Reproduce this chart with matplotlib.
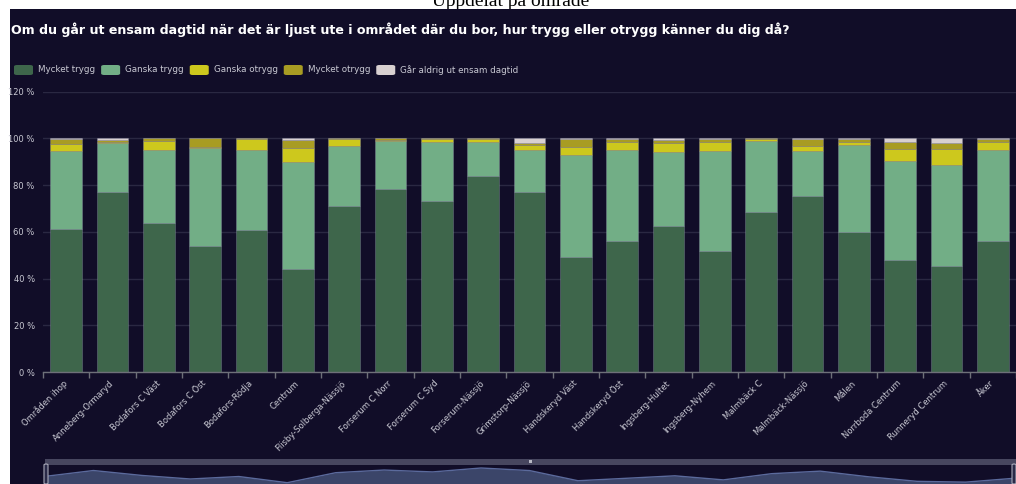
import matplotlib
matplotlib.use('Agg')
import matplotlib.pyplot as plt
import numpy as np
from matplotlib.patches import Rectangle, FancyBboxPatch
from matplotlib import font_manager

W, H = 1016, 484

categories = ["Områden ihop", "Anneberg-Ormaryd", "Bodafors C Väst", "Bodafors C Öst",
              "Bodafors-Rödja", "Centrum", "Flisby-Solberga-Nässjö", "Forserum C Norr",
              "Forserum C Syd", "Forserum-Nässjö", "Grimstorp-Nässjö", "Handskeryd Väst",
              "Handskeryd Öst", "Ingsberg-Hultet", "Ingsberg-Nyhem", "Malmbäck C",
              "Malmbäck-Nässjö", "Målen", "Norrboda Centrum", "Runneryd Centrum", "Åker"]

mycket_trygg = [61.1, 77.0, 63.7, 54.1, 60.8, 44.1, 71.1, 78.3, 73.2, 83.8, 76.9,
                49.4, 56.0, 62.7, 51.7, 68.5, 75.3, 60.0, 47.8, 45.6, 56.0]
ganska_trygg = [33.6, 21.1, 31.4, 41.8, 34.1, 45.9, 25.5, 20.7, 25.3, 14.5, 18.2,
                43.4, 38.9, 31.3, 43.0, 30.3, 19.4, 37.1, 42.4, 43.0, 39.1]
ganska_otrygg = [3.0, 0.3, 3.9, 0.3, 4.6, 6.0, 3.0, 0.3, 1.1, 1.4, 2.0,
                 3.3, 3.4, 4.1, 3.6, 0.8, 2.1, 1.4, 5.1, 6.8, 3.4]
mycket_otrygg = [1.9, 1.0, 1.0, 3.8, 0.5, 3.3, 0.4, 0.7, 0.4, 0.3, 1.0,
                 3.5, 1.5, 1.3, 1.4, 0.4, 2.7, 1.1, 3.1, 2.5, 1.1]
gar_aldrig = [0.4, 0.6, 0.0, 0.0, 0.0, 0.7, 0.0, 0.0, 0.0, 0.0, 1.9,
              0.4, 0.2, 0.6, 0.3, 0.0, 0.5, 0.4, 1.6, 2.1, 0.4]

series_names = ["Mycket trygg", "Ganska trygg", "Ganska otrygg", "Mycket otrygg",
                "Går aldrig ut ensam dagtid"]
series_values = [mycket_trygg, ganska_trygg, ganska_otrygg, mycket_otrygg, gar_aldrig]
series_colors = ["#3e664b", "#72ae86", "#cdc81d", "#a89c23", "#d8d0d0"]

yticks = [0, 20, 40, 60, 80, 100, 120]
ytick_labels = [f"{v} %" for v in yticks]

title = ("Om du går ut ensam dagtid när det är ljust ute i området där du bor, "
         "hur trygg eller otrygg känner du dig då?")
header = "Uppdelat på område"

BG = "#110d28"
GRID = "#2a2842"
AXIS = "#6e7079"
TXT = "#c9c9d3"

names = {f.name for f in font_manager.fontManager.ttflist}
narrow = "Liberation Sans Narrow" if "Liberation Sans Narrow" in names else "DejaVu Sans"
sans = "DejaVu Sans"

fig = plt.figure(figsize=(W / 100, H / 100), dpi=100, facecolor="white")


def fx(px):
    return px / W


def fy(py):
    return 1 - py / H


fig.canvas.draw()
renderer = fig.canvas.get_renderer()

# header (partially hidden)
ht = fig.text(fx(511), fy(5.5), header, family=["Liberation Serif", "DejaVu Serif"],
              fontsize=13.5, ha="center", va="baseline", color="black", zorder=-3)
bb = ht.get_window_extent(renderer)
ht.set_fontsize(13.5 * 157 / bb.width)

fig.add_artist(Rectangle((fx(10), 0), 1 - fx(10), fy(9), transform=fig.transFigure,
                         facecolor=BG, edgecolor="none", zorder=-2))

# title
tt = fig.text(fx(11), fy(34), title, family=sans, fontweight="bold", fontsize=11,
              color="white", ha="left", va="baseline")
bb = tt.get_window_extent(renderer)
tt.set_fontsize(11 * 779 / bb.width)

# main axes
ax = fig.add_axes([fx(43), fy(372.3), fx(1016) - fx(43), fy(91.5) - fy(372.3)])
ax.set_facecolor("none")
x = np.arange(len(categories))
bottom = np.zeros(len(categories))
containers = []
for name, vals, col in zip(series_names, series_values, series_colors):
    vals = np.array(vals)
    c = ax.bar(x, vals, 0.69, bottom=bottom, color=col, label=name,
               edgecolor=(0.62, 0.62, 0.72, 0.35), linewidth=0.6, zorder=3)
    containers.append(c)
    bottom += vals

ax.set_xlim(-0.5, len(categories) - 0.5)
ax.set_ylim(0, 120)
ax.set_yticks(yticks)
ax.set_yticklabels(ytick_labels)
ax.yaxis.grid(True, color=GRID, linewidth=1.0, zorder=0)
ax.set_axisbelow(True)
for s in ["top", "right", "left"]:
    ax.spines[s].set_visible(False)
ax.spines["bottom"].set_color(AXIS)
ax.spines["bottom"].set_linewidth(1.0)
ax.spines["bottom"].set_zorder(4)
ax.tick_params(axis="y", length=0, pad=6, labelsize=6, labelcolor=TXT)
for lab in ax.get_yticklabels():
    lab.set_family(sans)

ax.set_xticks(x)
ax.set_xticklabels(categories, rotation=45, ha="right", va="center",
                   rotation_mode="anchor", fontsize=6, color=TXT, family=narrow)
ax.tick_params(axis="x", which="major", length=0, pad=7)
ax.set_xticks(np.arange(-0.5, len(categories), 1.0), minor=True)
ax.tick_params(axis="x", which="minor", length=4, color=AXIS, width=1)

# legend (manual, echarts style)
lx = 14
ly = 70
for name, col in zip(series_names, series_colors):
    fig.add_artist(FancyBboxPatch((fx(lx), fy(ly + 5)), fx(19), 10 / H,
                                  boxstyle="round,pad=0,rounding_size=0.003",
                                  transform=fig.transFigure, facecolor=col,
                                  edgecolor="none"))
    t = fig.text(fx(lx + 24), fy(ly), name, fontsize=6.3, color=TXT, family=sans,
                 ha="left", va="center")
    w = t.get_window_extent(renderer).width
    lx = lx + 24 + w + 6

# data zoom slider
fig.add_artist(Rectangle((fx(45), fy(465)), fx(1016) - fx(45), 6 / H,
                         transform=fig.transFigure, facecolor="#47465f",
                         edgecolor="none", zorder=1))
sax = fig.add_axes([fx(45), 0, fx(1014) - fx(45), fy(465)])
sax.set_facecolor("#282a48")
xs = np.arange(len(mycket_trygg))
sax.fill_between(xs, mycket_trygg, 0, color="#3b4569", linewidth=0)
sax.plot(xs, mycket_trygg, color="#5b6a9c", linewidth=1)
sax.set_xlim(0, len(mycket_trygg) - 1)
sax.set_ylim(40.6, 91.9)
sax.axis("off")
for hx in (44, 1012):
    fig.add_artist(FancyBboxPatch((fx(hx), fy(484)), fx(4), 20 / H,
                                  boxstyle="round,pad=0,rounding_size=0.002",
                                  transform=fig.transFigure, facecolor="#2a2a48",
                                  edgecolor="#a8a8b8", linewidth=0.8, zorder=5))
fig.add_artist(Rectangle((fx(529), fy(463)), fx(3), 3 / H, transform=fig.transFigure,
                         facecolor="#b8b8c4", edgecolor="none", zorder=5))

fig.savefig("out.png", dpi=100, facecolor="white")
